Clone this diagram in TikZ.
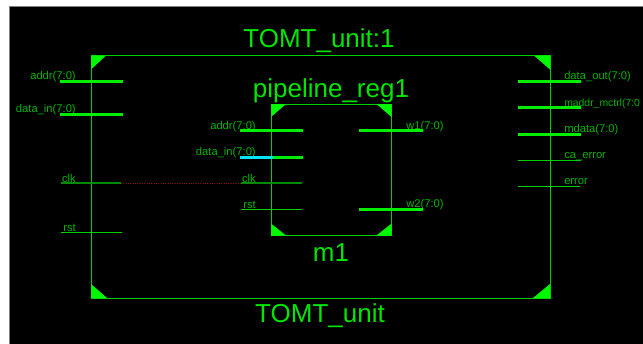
\documentclass[tikz,border=0pt]{standalone}
\usepackage{fontspec}
\setmainfont{Liberation Sans}
\usepackage{xcolor}
\usepackage{tikz}
\definecolor{brightgreen}{HTML}{00E600}
\definecolor{cornergreen}{HTML}{00F800}
\definecolor{boxgreen}{HTML}{00D000}
\definecolor{labelgreen}{HTML}{00B400}
\definecolor{dimgreen}{HTML}{008A00}
\definecolor{busgreen}{HTML}{00EE00}
\definecolor{buscyan}{HTML}{00E5F5}
\definecolor{tracered}{HTML}{8A1414}

\begin{document}
\begin{tikzpicture}[
		x=0.75pt,y=-0.75pt,
		every node/.style={inner sep=0,text=labelgreen,font=\fontsize{8.4}{10}\selectfont},
		title/.style={text=brightgreen,font=\fontsize{19.5}{22}\selectfont},
		box/.style={draw=boxgreen,line width=0.75pt},
		corner/.style={fill=cornergreen},
		bus/.style={draw=busgreen,line width=2.25pt},
		wire/.style={draw=boxgreen,line width=0.6pt},
		dimwire/.style={draw=dimgreen,line width=0.9pt}]
		\useasboundingbox (0,0) rectangle (643,343);
		\fill[white] (0,0) rectangle (643,343);
		\fill[black,draw=gray,line width=0.6pt] (9.5,6.5) rectangle (660,360);

		% blocks
		\coordinate (ou) at (91,55.5);
		\coordinate (od) at (550,298);
		\coordinate (iu) at (271,104);
		\coordinate (id) at (391.5,235.5);
		\draw[box] (ou) rectangle (od);
		\draw[box] (iu) rectangle (id);
		\fill[corner] (ou) -- ++(15,0) -- ++(-15,14) -- cycle;
		\fill[corner] (ou -| od) -- ++(-16,0) -- ++(16,14) -- cycle;
		\fill[corner] (ou |- od) -- ++(16,0) -- ++(-16,-14) -- cycle;
		\fill[corner] (od) -- ++(-17,0) -- ++(17,-14) -- cycle;
		\fill[corner] (iu) -- ++(15,0) -- ++(-15,13) -- cycle;
		\fill[corner] (iu -| id) -- ++(-15,0) -- ++(15,13) -- cycle;
		\fill[corner] (iu |- id) -- ++(15,0) -- ++(-15,-12) -- cycle;
		\fill[corner] (id) -- ++(-15,0) -- ++(15,-12) -- cycle;

		\node[title] (tomt1) at (319,40.5) {TOMT\_unit:1};
		\node[title] (pipe) at (331,90.5) {pipeline\_reg1};
		\node[title] (m1) at (331,253) {m1};
		\node[title] (tomt) at (320,315.5) {TOMT\_unit};

		% outer ports, left
		\node[anchor=east] (oaddr) at (76,77) {addr(7:0)};
		\node[anchor=east] (odata) at (76,110) {data\_in(7:0)};
		\node[anchor=east] (oclk) at (76,178) {clk};
		\node[anchor=east] (orst) at (76,227.5) {rst};
		\coordinate (oaddra) at (60,81); \coordinate (oaddrb) at (123,81);
		\coordinate (odataa) at (60,114); \coordinate (odatab) at (123,114);
		\coordinate (oclka) at (61,183); \coordinate (oclkb) at (121,183);
		\coordinate (orsta) at (61,232); \coordinate (orstb) at (122,232);
		\draw[bus] (oaddra) -- (oaddrb);
		\draw[bus] (odataa) -- (odatab);
		\draw[dimwire] (oclka) -- (oclkb);
		\draw[wire] (orsta) -- (orstb);

		% inner ports, left
		\node[anchor=east] (iaddr) at (256,127) {addr(7:0)};
		\node[anchor=east] (idata) at (256,153) {data\_in(7:0)};
		\node[anchor=east] (iclk) at (256,178) {clk};
		\node[anchor=east] (irst) at (256,204.5) {rst};
		\coordinate (iaddra) at (240,130.5); \coordinate (iaddrb) at (303,130.5);
		\coordinate (idataa) at (240,157); \coordinate (idatam) at (273,157); \coordinate (idatab) at (303,157);
		\coordinate (iclka) at (241,183); \coordinate (iclkb) at (302,183);
		\coordinate (irsta) at (241,209); \coordinate (irstb) at (302,209);
		\draw[bus] (iaddra) -- (iaddrb);
		\draw[bus] (idatam) -- (idatab);
		\draw[bus,draw=buscyan] (idataa) -- (idatam);
		\draw[dimwire] (iclka) -- (iclkb);
		\draw[wire] (irsta) -- (irstb);
		\draw[draw=tracered,line width=0.75pt,densely dotted] (oclkb) -- (iclka);

		% inner ports, right
		\node[anchor=west] (w1) at (406,127) {w1(7:0)};
		\node[anchor=west] (w2) at (406,205) {w2(7:0)};
		\coordinate (w1a) at (359,130.5); \coordinate (w1b) at (423,130.5);
		\coordinate (w2a) at (359,209); \coordinate (w2b) at (423,209);
		\draw[bus] (w1a) -- (w1b);
		\draw[bus] (w2a) -- (w2b);

		% outer ports, right
		\node[anchor=west] (dout) at (564,77) {data\_out(7:0)};
		\node[anchor=west,font=\fontsize{7.8}{10}\selectfont] (maddr) at (564,104) {maddr\_mctrl(7:0};
		\node[anchor=west] (mdata) at (564,130) {mdata(7:0)};
		\node[anchor=west] (caerr) at (564,157) {ca\_error};
		\node[anchor=west] (err) at (564,182) {error};
		\coordinate (douta) at (518,81); \coordinate (doutb) at (581,81);
		\coordinate (maddra) at (518,107.5); \coordinate (maddrb) at (581,107.5);
		\coordinate (mdataa) at (518,134); \coordinate (mdatab) at (581,134);
		\coordinate (caerra) at (518,160); \coordinate (caerrb) at (581,160);
		\coordinate (erra) at (518,186); \coordinate (errb) at (580,186);
		\draw[bus] (douta) -- (doutb);
		\draw[bus] (maddra) -- (maddrb);
		\draw[bus] (mdataa) -- (mdatab);
		\draw[wire] (caerra) -- (caerrb);
		\draw[wire] (erra) -- (errb);
\end{tikzpicture}
\end{document}
